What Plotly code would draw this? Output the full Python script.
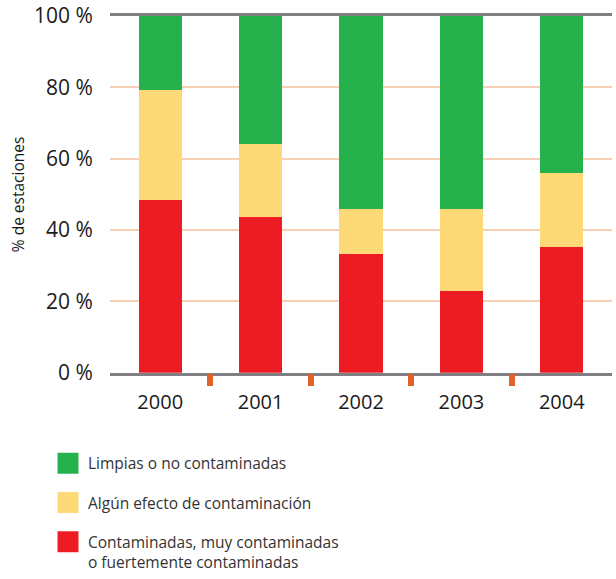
import plotly.graph_objects as go

years = ["2000", "2001", "2002", "2003", "2004"]
red_vals = [48.4, 43.6, 33.4, 22.9, 35.3]
yellow_vals = [31.0, 20.6, 12.5, 23.0, 20.7]
green_vals = [20.6, 35.8, 54.1, 54.1, 44.0]
names = ["Contaminadas, muy contaminadas<br>o fuertemente contaminadas",
         "Algún efecto de contaminación",
         "Limpias o no contaminadas"]
colors = ["#ed1c24", "#fdd977", "#25b14c"]
y_ticks = [0, 20, 40, 60, 80, 100]
y_tick_text = [f"{v} %" for v in y_ticks]
sep_ticks = [0.5, 1.5, 2.5, 3.5]

W, H = 616, 579
ML, MR, MT, MB = 0, 4, 16, 0
PW, PH = W - ML - MR, H - MT - MB
x_dom = [110 / PW, 1]
y_dom = [(H - 378) / PH, 1]

fig = go.Figure()
for vals, name, col in zip([red_vals, yellow_vals, green_vals], names, colors):
    fig.add_trace(go.Bar(x=list(range(len(years))), y=vals, name=name,
                         marker=dict(color=col, line=dict(width=0)),
                         width=0.43, showlegend=False))

# legend entries (bigger square swatches)
for rank, (name, col) in enumerate(zip(names, colors)):
    fig.add_trace(go.Scatter(x=[None], y=[None], mode="markers", name=name,
                             marker=dict(symbol="square", size=16, color=col,
                                         line=dict(width=5, color=col)),
                             legendgroup=name, legendrank=3 - rank))

# invisible trace to host the separator ticks axis
fig.add_trace(go.Scatter(x=[0, 4], y=[0, 0], xaxis="x2", mode="markers", marker=dict(opacity=0),
                         showlegend=False, hoverinfo="skip"))

fig.update_layout(
    width=W, height=H,
    margin=dict(l=ML, r=MR, t=MT, b=MB),
    barmode="stack",
    plot_bgcolor="white", paper_bgcolor="white",
    font=dict(family="Open Sans", color="#1a1a1a"),
    xaxis=dict(domain=x_dom, range=[-0.5, 4.5], tickvals=list(range(len(years))), ticktext=years,
               tickfont=dict(size=20, color="#1a1a1a"), showline=True, mirror=True,
               linecolor="#808084", linewidth=3, showgrid=False, ticks="outside",
               ticklen=9, tickcolor="rgba(0,0,0,0)", automargin=False),
    xaxis2=dict(domain=x_dom, range=[-0.5, 4.5], overlaying="x", side="bottom", tickvals=sep_ticks,
                ticks="outside", ticklen=12, tickwidth=6, tickcolor="#e0622a",
                showticklabels=False, showgrid=False, showline=False, zeroline=False,
                automargin=False),
    yaxis=dict(domain=y_dom, range=[0, 100], tickvals=y_ticks, ticktext=y_tick_text,
               tickfont=dict(size=21, color="#1a1a1a"), gridcolor="#f8cfb5", gridwidth=2,
               zeroline=False, showline=False, automargin=False, ticks="outside",
               ticklen=12, tickcolor="rgba(0,0,0,0)",
               title=dict(text="% de estaciones", font=dict(size=15.5, color="#1a1a1a"), standoff=5)),
    legend=dict(x=48 / PW, y=(H - 453) / PH, xanchor="left", yanchor="top", traceorder="grouped",
                tracegroupgap=16, font=dict(size=15.5, color="#333333"), valign="top",
                itemwidth=30),
    showlegend=True,
)
fig.write_html("out.html", config={"displayModeBar": False},
               post_script="document.body.style.margin='0';document.body.style.padding='0';")
